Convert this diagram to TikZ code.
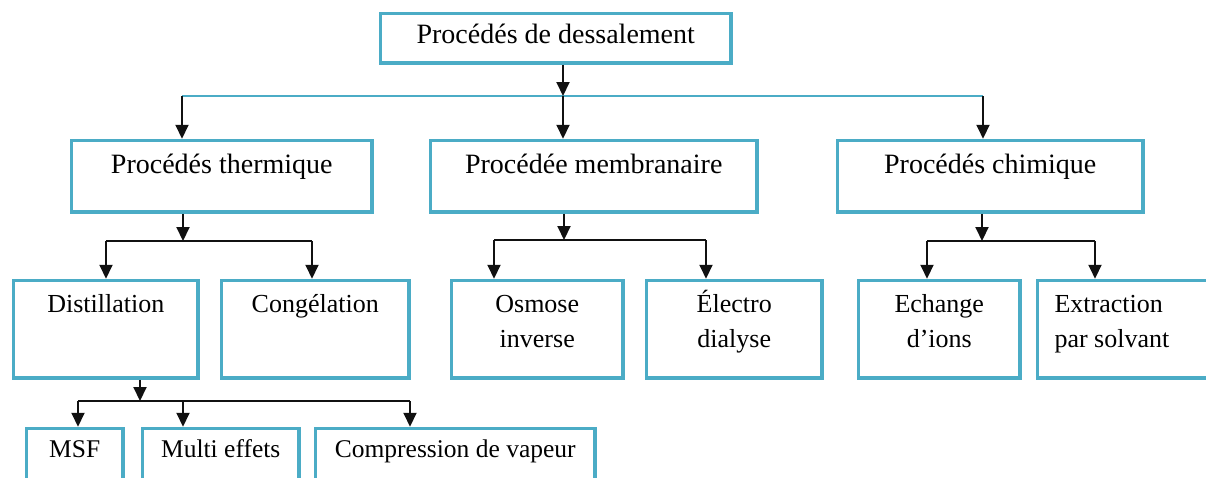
\documentclass[tikz,border=0pt]{standalone}
\usepackage{fontspec}
\setmainfont{Liberation Serif}
\usetikzlibrary{positioning, arrows.meta, calc}
\definecolor{cBox}{HTML}{4BACC6}
\definecolor{cInk}{HTML}{111111}

\begin{document}
\begin{tikzpicture}[x=1pt,y=-1pt,
  box/.style={draw=cBox,line width=3.5pt,fill=white,align=center,inner sep=0pt,anchor=north west},
  root/.style={box,font=\fontsize{28}{35}\selectfont,text height=30.25pt,text depth=19.25pt},
  fam/.style={box,font=\fontsize{28}{35}\selectfont,text height=33.25pt,text depth=38.25pt},
  tech/.style={box,font=\fontsize{26}{35}\selectfont,text height=31.75pt,text depth=65.75pt},
  sub/.style={box,font=\fontsize{25.5}{35}\selectfont,text height=28.75pt,text depth=31pt},
  arr/.style={-{Triangle[length=14pt,width=13pt]},line width=2pt,draw=cInk},
  link/.style={line width=2pt,draw=cInk},
  tlink/.style={line width=2pt,draw=cBox}]
  \useasboundingbox (0,0) rectangle (1206,477);
  % boxes
  \node[root, minimum width=350.5pt] (top) at (378.75,11.75) {Procédés de dessalement};
  \node[fam, minimum width=300.5pt] (therm) at (69.75,138.75) {Procédés thermique};
  \node[fam, minimum width=326.5pt] (memb) at (428.75,138.75) {Procédée membranaire};
  \node[fam, minimum width=305.5pt] (chim) at (835.75,138.75) {Procédés chimique};
  \node[tech, text width=184.5pt] (dist) at (11.75,278.75) {Distillation};
  \node[tech, text width=187.5pt] (cong) at (219.75,278.75) {Congélation};
  \node[tech, text width=171.5pt] (osm) at (449.75,278.75) {Osmose\\inverse};
  \node[tech, text width=175.5pt] (elec) at (644.75,278.75) {Électro\\dialyse};
  \node[tech, text width=161.5pt] (ech) at (856.75,278.75) {Echange\\d’ions};
  \node[tech, align=flush left, text width=160pt, inner xsep=17pt] (extr) at (1035.75,278.75) {Extraction\\par solvant};
  \node[sub, minimum width=96.5pt] (msf) at (24.75,426.75) {MSF};
  \node[sub, minimum width=156.5pt] (multi) at (140.75,426.75) {Multi effets};
  \node[sub, minimum width=279.5pt] (comp) at (313.75,426.75) {Compression de vapeur};
  % junctions
  \coordinate (jTop) at (563,96);
  \coordinate (jTopL) at (182,96);
  \coordinate (jTopR) at (983,96);
  \coordinate (jTh) at (183,241);
  \coordinate (jThL) at (106,241);
  \coordinate (jThR) at (312,241);
  \coordinate (jMe) at (564,240);
  \coordinate (jMeL) at (494,240);
  \coordinate (jMeR) at (706,240);
  \coordinate (jCh) at (982,241);
  \coordinate (jChL) at (927,241);
  \coordinate (jChR) at (1095,241);
  \coordinate (jDi) at (140,401);
  \coordinate (jDiL) at (78,401);
  \coordinate (jDiM) at (183,401);
  \coordinate (jDiR) at (410,401);
  % connectors
  \draw[tlink] (jTopL) -- (jTopR);
  \draw[arr] (top.south -| jTop) -- (jTop);
  \draw[arr] (jTop) -- (memb.north -| jTop);
  \draw[arr] (jTopL) -- (therm.north -| jTopL);
  \draw[arr] (jTopR) -- (chim.north -| jTopR);
  \draw[arr] (therm.south -| jTh) -- (jTh);
  \draw[link] (jThL) -- (jThR);
  \draw[arr] (jThL) -- (dist.north -| jThL);
  \draw[arr] (jThR) -- (cong.north -| jThR);
  \draw[arr] (memb.south -| jMe) -- (jMe);
  \draw[link] (jMeL) -- (jMeR);
  \draw[arr] (jMeL) -- (osm.north -| jMeL);
  \draw[arr] (jMeR) -- (elec.north -| jMeR);
  \draw[arr] (chim.south -| jCh) -- (jCh);
  \draw[link] (jChL) -- (jChR);
  \draw[arr] (jChL) -- (ech.north -| jChL);
  \draw[arr] (jChR) -- (extr.north -| jChR);
  \draw[arr] (dist.south -| jDi) -- (jDi);
  \draw[link] (jDiL) -- (jDiR);
  \draw[arr] (jDiL) -- (msf.north -| jDiL);
  \draw[arr] (jDiM) -- (multi.north -| jDiM);
  \draw[arr] (jDiR) -- (comp.north -| jDiR);
\end{tikzpicture}
\end{document}
